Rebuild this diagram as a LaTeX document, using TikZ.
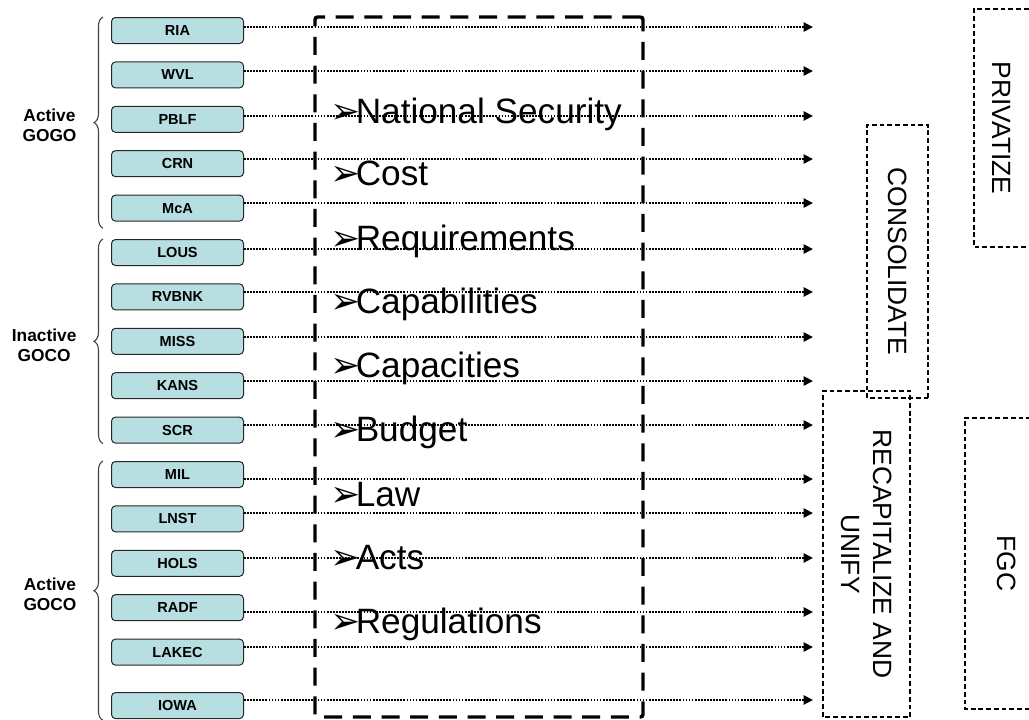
\documentclass[tikz,border=0pt]{standalone}
\usepackage{fontspec}
\setmainfont{Liberation Sans}
\newfontfamily\dingfont{DejaVu Sans}
\usetikzlibrary{positioning,arrows.meta,decorations.pathreplacing}
\definecolor{sitecyan}{RGB}{183,222,225}
\newcommand{\critbullet}{{\dingfont\fontsize{27}{27}\selectfont\char"27A2}\kern-3.5pt}

\begin{document}
\begin{tikzpicture}[
    x=0.75pt, y=-0.75pt,
    node distance=33.3pt,
    site/.style={
        rectangle,
        rounded corners=3pt,
        draw=black!85,
        fill=sitecyan,
        line width=0.75pt,
        minimum width=99pt,
        minimum height=19.5pt,
        inner sep=0pt,
        font=\fontsize{10.9}{12}\selectfont\bfseries
    },
    group/.style={
        align=center,
        inner sep=0pt,
        font=\fontsize{13}{15}\selectfont\bfseries
    },
    brace/.style={
        decorate,
        decoration={brace, amplitude=6.75pt},
        draw=black!75,
        line width=0.8pt
    },
    flow/.style={
        -{Triangle[length=7pt,width=6.8pt]},
        line width=1.6pt,
        dash pattern=on 1.3pt off 1pt
    },
    critbox/.style={
        draw,
        line width=2.6pt,
        dash pattern=on 13.5pt off 8pt,
        rounded corners=2pt,
        minimum width=246pt,
        minimum height=525pt
    },
    crit/.style={
        anchor=base west,
        inner sep=0pt,
        font=\fontsize{26.4}{30}\selectfont
    },
    action/.style={
        draw,
        line width=1.3pt,
        dash pattern=on 3.6pt off 2.2pt,
        rotate=-90,
        align=center,
        inner sep=0pt,
        font=\fontsize{19.8}{23.7}\selectfont
    }
]
\useasboundingbox (0,0) rectangle (1029,719);
\clip (0,0) rectangle (1029,719);

% Sites
\node[site] (ria) at (177.5,30.5) {RIA};
\node[site, below of=ria] (wvl) {WVL};
\node[site, below of=wvl] (pblf) {PBLF};
\node[site, below of=pblf] (crn) {CRN};
\node[site, below of=crn] (mca) {McA};
\node[site, below of=mca] (lous) {LOUS};
\node[site, below of=lous] (rvbnk) {RVBNK};
\node[site, below of=rvbnk] (miss) {MISS};
\node[site, below of=miss] (kans) {KANS};
\node[site, below of=kans] (scr) {SCR};
\node[site, below of=scr] (mil) {MIL};
\node[site, below of=mil] (lnst) {LNST};
\node[site, below of=lnst] (hols) {HOLS};
\node[site, below of=hols] (radf) {RADF};
\node[site, below of=radf] (lakec) {LAKEC};
\node[site, below of=lakec, node distance=40.1pt] (iowa) {IOWA};

% Groups
\draw[brace] ([xshift=-6pt,yshift=-5pt]mca.south west) -- ([xshift=-6pt]ria.north west)
    node[group, midway, left=19.5pt, yshift=-2pt] {Active\\GOGO};
\draw[brace] ([xshift=-6pt]scr.south west) -- ([xshift=-6pt]lous.north west)
    node[group, midway, left=19.5pt, yshift=-3pt] {Inactive\\GOCO};
\draw[brace] ([xshift=-6pt,yshift=-1pt]iowa.south west) -- ([xshift=-6pt]mil.north west)
    node[group, midway, left=19.5pt, yshift=-3pt] {Active\\GOCO};

% Flows
\coordinate (xend) at (813,0);
\draw[flow] ([yshift=2.6pt]ria.east) -- ([yshift=2.6pt]ria.east -| xend);
\draw[flow] ([yshift=2.9pt]wvl.east) -- ([yshift=2.9pt]wvl.east -| xend);
\draw[flow] ([yshift=2.5pt]pblf.east) -- ([yshift=2.5pt]pblf.east -| xend);
\draw[flow] ([yshift=3.5pt]crn.east) -- ([yshift=3.5pt]crn.east -| xend);
\draw[flow] ([yshift=3.8pt]mca.east) -- ([yshift=3.8pt]mca.east -| xend);
\draw[flow] ([yshift=2.6pt]lous.east) -- ([yshift=2.6pt]lous.east -| xend);
\draw[flow] ([yshift=3.7pt]rvbnk.east) -- ([yshift=3.7pt]rvbnk.east -| xend);
\draw[flow] ([yshift=3.2pt]miss.east) -- ([yshift=3.2pt]miss.east -| xend);
\draw[flow] ([yshift=3.5pt]kans.east) -- ([yshift=3.5pt]kans.east -| xend);
\draw[flow] ([yshift=3.8pt]scr.east) -- ([yshift=3.8pt]scr.east -| xend);
\draw[flow] ([yshift=-3.4pt]mil.east) -- ([yshift=-3.4pt]mil.east -| xend);
\draw[flow] ([yshift=4.4pt]lnst.east) -- ([yshift=4.4pt]lnst.east -| xend);
\draw[flow] ([yshift=4pt]hols.east) -- ([yshift=4pt]hols.east -| xend);
\draw[flow] ([yshift=-3.2pt]radf.east) -- ([yshift=-3.2pt]radf.east -| xend);
\draw[flow] ([yshift=3.8pt]lakec.east) -- ([yshift=3.8pt]lakec.east -| xend);
\draw[flow] ([yshift=4.2pt]iowa.east) -- ([yshift=4.2pt]iowa.east -| xend);

% Criteria
\node[critbox] (critframe) at (479,367) {};
\node[crit] (natsec) at (330,123) {\critbullet National Security};
\node[crit] (cost) at (330,185) {\critbullet Cost};
\node[crit] (reqs) at (330,250) {\critbullet Requirements};
\node[crit] (capab) at (330,313) {\critbullet Capabilities};
\node[crit] (capac) at (330,377) {\critbullet Capacities};
\node[crit] (budget) at (330,441) {\critbullet Budget};
\node[crit] (law) at (330,506) {\critbullet Law};
\node[crit] (acts) at (330,569) {\critbullet Acts};
\node[crit] (regs) at (330,633) {\critbullet Regulations};

% Actions
\node[action, minimum width=178.7pt, minimum height=42.2pt] (privatize) at (1002,128) {PRIVATIZE};
\node[action, minimum width=205pt, minimum height=46pt] (consolidate) at (897.5,261.5) {CONSOLIDATE};
\node[action, minimum width=244.7pt, minimum height=65.5pt] (recap) at (866.5,554) {RECAPITALIZE AND\\UNIFY};
\node[action, minimum width=218.5pt, minimum height=63.2pt] (fgc) at (1007,563.5) {FGC};

\end{tikzpicture}
\end{document}
